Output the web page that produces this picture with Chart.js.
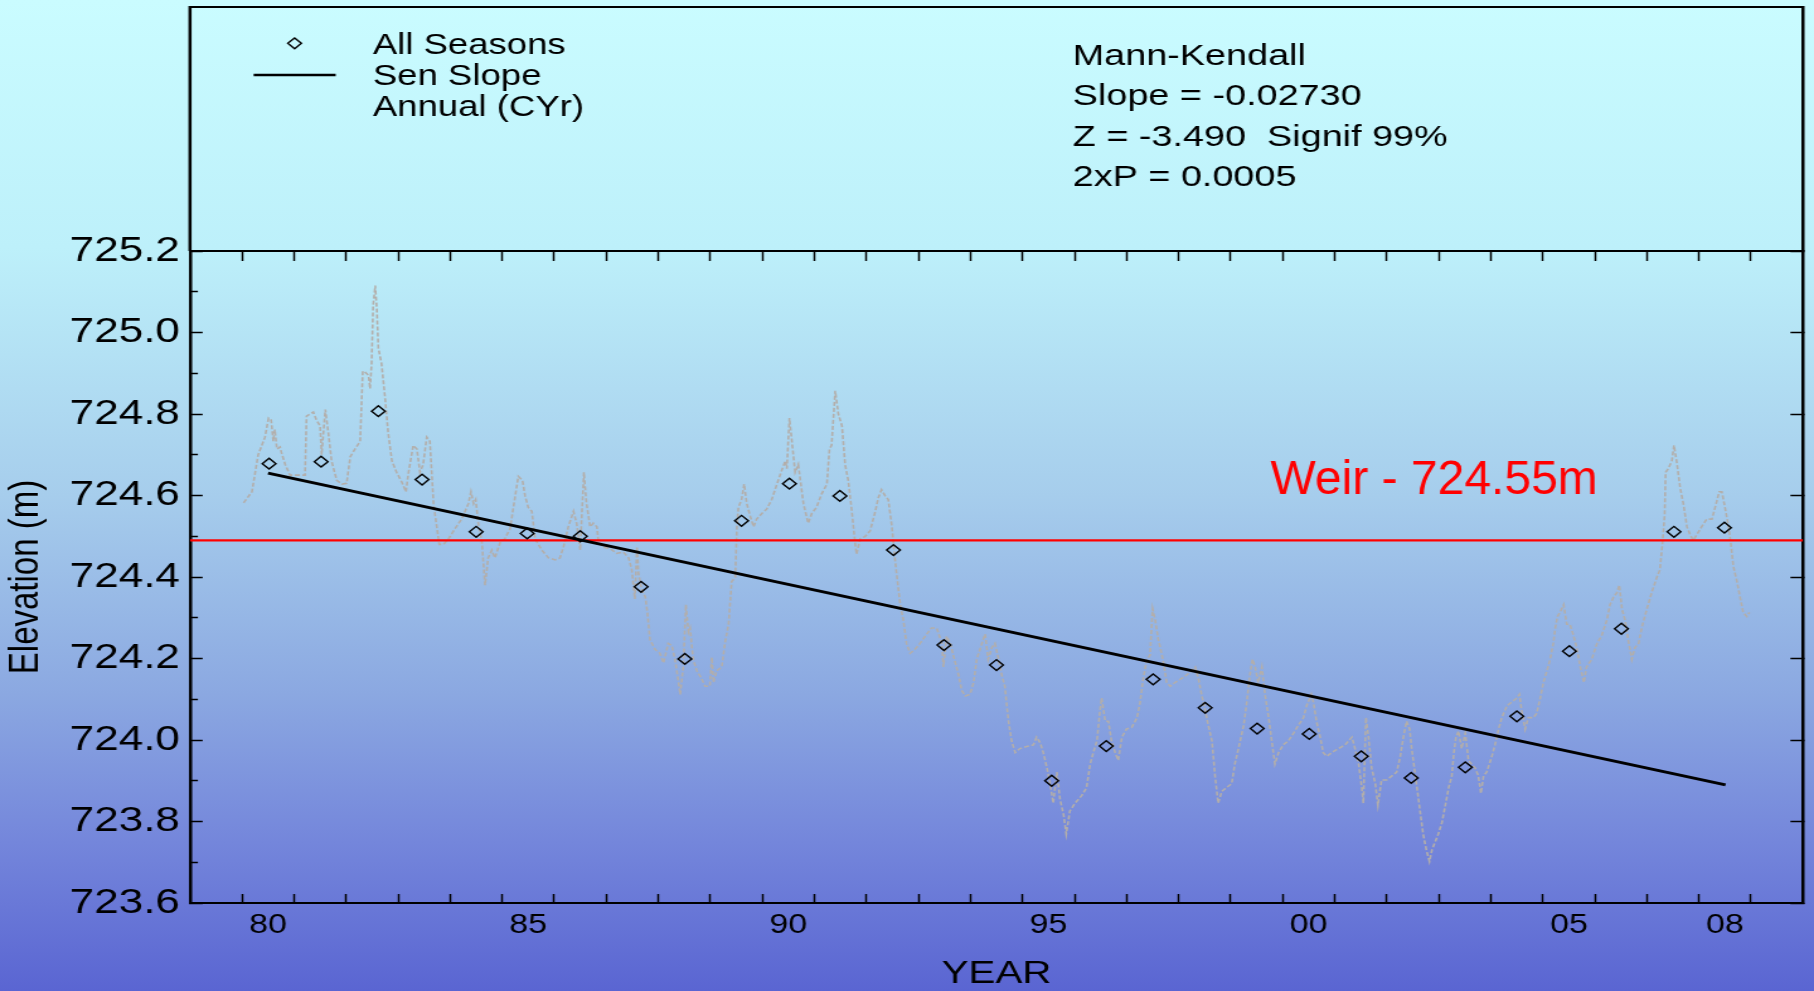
<!DOCTYPE html>
<html>
<head>
<meta charset="utf-8">
<title>Elevation - Mann-Kendall</title>
<script src="https://cdn.jsdelivr.net/npm/chart.js@4.4.1/dist/chart.umd.min.js"></script>
<style>
  html, body { margin: 0; padding: 0; overflow: hidden; }
  body {
    width: 1814px;
    height: 991px;
    background: linear-gradient(to bottom, #cafcff 0%, #bdf0fa 25%, #a6cdec 50%, #8ba8e1 70%, #7486db 85%, #5a65d2 100%);
  }
  /* the original picture is stretched sideways, so is this one */
  #wrap { width: 1440px; height: 991px; transform: scaleX(1.259722); transform-origin: 0 0; }
</style>
</head>
<body>
<div id="wrap"><canvas id="trendChart" width="1440" height="991"></canvas></div>
<script>
const STRETCH = 1814 / 1440;
const FONT = '"Liberation Sans", Arial, sans-serif';

// annual (all seasons) values
const seasonYears = [1980.52, 1981.52, 1982.62, 1983.46, 1984.50, 1985.48, 1986.50, 1987.67, 1988.51, 1989.60,
  1990.52, 1991.49, 1992.52, 1993.49, 1994.50, 1995.56, 1996.61, 1997.51, 1998.51, 1999.51,
  2000.51, 2001.51, 2002.47, 2003.51, 2004.50, 2005.51, 2006.51, 2007.52, 2008.49];
const seasonValues = [724.678, 724.683, 724.807, 724.639, 724.511, 724.507, 724.500, 724.376, 724.199, 724.538,
  724.629, 724.599, 724.466, 724.233, 724.184, 723.900, 723.985, 724.149, 724.079, 724.028,
  724.015, 723.960, 723.907, 723.933, 724.058, 724.218, 724.273, 724.511, 724.521];

// Sen slope end points
const senYears = [1980.50, 2008.51];
const senValues = [724.655, 723.890];

const weirLevel = 724.49;

// lake level record (grey dashed)
const levelYears = [
  1980.03, 1980.19, 1980.31, 1980.44, 1980.51, 1980.56, 1980.60, 1980.63, 1980.67, 1980.73, 1980.76, 1980.83, 1980.92,
  1981.21, 1981.24, 1981.37, 1981.43, 1981.50, 1981.53, 1981.60, 1981.66, 1981.72, 1981.82, 1981.92,
  1982.01, 1982.08, 1982.17, 1982.27, 1982.32, 1982.36, 1982.43, 1982.46, 1982.49, 1982.52, 1982.56, 1982.59, 1982.62, 1982.68, 1982.75, 1982.81, 1982.88, 1982.97,
  1983.07, 1983.15, 1983.20, 1983.29, 1983.36, 1983.42, 1983.48, 1983.55, 1983.61, 1983.68, 1983.79, 1983.87, 1983.97,
  1984.09, 1984.22, 1984.35, 1984.40, 1984.45, 1984.49, 1984.54, 1984.61, 1984.67, 1984.73, 1984.80, 1984.86, 1984.96,
  1985.05, 1985.15, 1985.25, 1985.31, 1985.39, 1985.44, 1985.50, 1985.57, 1985.63, 1985.76, 1985.89,
  1986.02, 1986.11, 1986.18, 1986.27, 1986.37, 1986.43, 1986.50, 1986.53, 1986.57, 1986.62, 1986.69, 1986.75, 1986.82, 1986.85, 1986.94,
  1987.07, 1987.20, 1987.33, 1987.43, 1987.49, 1987.55, 1987.59, 1987.62, 1987.68, 1987.75, 1987.79, 1987.84, 1987.94,
  1988.03, 1988.10, 1988.19, 1988.26, 1988.32, 1988.39, 1988.42, 1988.48, 1988.53, 1988.58, 1988.61, 1988.67, 1988.74, 1988.83, 1988.90, 1988.99,
  1989.03, 1989.06, 1989.12, 1989.22, 1989.28, 1989.35, 1989.41, 1989.48, 1989.51, 1989.54, 1989.60, 1989.65, 1989.70, 1989.76, 1989.83, 1989.89, 1989.99,
  1990.08, 1990.18, 1990.28, 1990.37, 1990.44, 1990.47, 1990.52, 1990.56, 1990.63, 1990.69, 1990.79, 1990.88, 1990.95,
  1991.04, 1991.14, 1991.24, 1991.29, 1991.33, 1991.40, 1991.46, 1991.53, 1991.59, 1991.65, 1991.72, 1991.78, 1991.81, 1991.88, 1991.97,
  1992.07, 1992.17, 1992.23, 1992.29, 1992.36, 1992.42, 1992.49, 1992.53, 1992.58, 1992.65, 1992.71, 1992.77, 1992.84, 1992.93,
  1993.03, 1993.16, 1993.25, 1993.35, 1993.45, 1993.48, 1993.54, 1993.61, 1993.67, 1993.77, 1993.83, 1993.90, 1993.99,
  1994.06, 1994.12, 1994.22, 1994.28, 1994.34, 1994.41, 1994.47, 1994.54, 1994.60, 1994.66, 1994.73, 1994.79, 1994.86, 1994.95,
  1995.08, 1995.21, 1995.27, 1995.34, 1995.40, 1995.47, 1995.53, 1995.59, 1995.66, 1995.72, 1995.79, 1995.84, 1995.91,
  1996.01, 1996.14, 1996.23, 1996.30, 1996.36, 1996.43, 1996.49, 1996.52, 1996.59, 1996.65, 1996.71, 1996.78, 1996.84, 1996.91,
  1997.00, 1997.10, 1997.20, 1997.26, 1997.32, 1997.39, 1997.45, 1997.50, 1997.55, 1997.61, 1997.68, 1997.71, 1997.77, 1997.84, 1997.93,
  1998.06, 1998.16, 1998.25, 1998.32, 1998.38, 1998.44, 1998.51, 1998.57, 1998.64, 1998.70, 1998.76, 1998.83, 1998.92,
  1999.02, 1999.08, 1999.15, 1999.25, 1999.31, 1999.37, 1999.42, 1999.47, 1999.53, 1999.60, 1999.66, 1999.73, 1999.79, 1999.85, 1999.92,
  2000.01, 2000.11, 2000.21, 2000.30, 2000.40, 2000.46, 2000.55, 2000.59, 2000.65, 2000.72, 2000.78, 2000.85, 2000.94,
  2001.07, 2001.20, 2001.33, 2001.39, 2001.46, 2001.52, 2001.55, 2001.60, 2001.65, 2001.71, 2001.78, 2001.83, 2001.90,
  2002.00, 2002.10, 2002.19, 2002.26, 2002.32, 2002.38, 2002.44, 2002.48, 2002.54, 2002.61, 2002.65, 2002.70, 2002.76, 2002.82, 2002.87, 2002.93, 2002.99,
  2003.06, 2003.12, 2003.19, 2003.25, 2003.29, 2003.33, 2003.38, 2003.44, 2003.51, 2003.57, 2003.63, 2003.70, 2003.76, 2003.81, 2003.86, 2003.92,
  2004.02, 2004.08, 2004.15, 2004.21, 2004.31, 2004.40, 2004.50, 2004.55, 2004.59, 2004.66, 2004.72, 2004.82, 2004.88, 2004.95,
  2005.01, 2005.08, 2005.14, 2005.20, 2005.24, 2005.28, 2005.33, 2005.40, 2005.46, 2005.52, 2005.59, 2005.65, 2005.72, 2005.79, 2005.84, 2005.94,
  2006.04, 2006.13, 2006.23, 2006.29, 2006.36, 2006.42, 2006.47, 2006.52, 2006.58, 2006.64, 2006.71, 2006.77, 2006.84, 2006.90,
  2007.00, 2007.09, 2007.19, 2007.25, 2007.30, 2007.34, 2007.36, 2007.41, 2007.48, 2007.52, 2007.57, 2007.64, 2007.70, 2007.77, 2007.83, 2007.89, 2007.96,
  2008.05, 2008.15, 2008.25, 2008.33, 2008.39, 2008.44, 2008.50, 2008.57, 2008.61, 2008.66, 2008.73, 2008.79, 2008.85, 2008.92, 2008.97
];
const levelValues = [
  724.582, 724.609, 724.700, 724.743, 724.790, 724.785, 724.733, 724.762, 724.714, 724.719, 724.704, 724.676, 724.650,
  724.650, 724.795, 724.805, 724.785, 724.771, 724.700, 724.811, 724.752, 724.685, 724.637, 724.628,
  724.630, 724.695, 724.714, 724.733, 724.905, 724.903, 724.895, 724.862, 724.924, 725.067, 725.115, 725.058, 724.962, 724.924, 724.838, 724.752, 724.685, 724.657,
  724.633, 724.609, 724.657, 724.723, 724.714, 724.657, 724.676, 724.743, 724.733, 724.580, 724.480, 724.480, 724.494,
  724.518, 724.542, 724.580, 724.609, 724.580, 724.590, 724.532, 724.485, 724.380, 724.447, 724.466, 724.447, 724.485,
  724.494, 724.518, 724.599, 724.647, 724.637, 724.599, 724.571, 724.561, 724.494, 724.466, 724.447,
  724.442, 724.447, 724.475, 724.523, 724.561, 724.532, 724.466, 724.552, 724.657, 724.580, 724.523, 724.532, 724.523, 724.485, 724.473,
  724.470, 724.458, 724.461, 724.447, 724.418, 724.346, 724.475, 724.408, 724.370, 724.351, 724.313, 724.246, 724.222,
  724.213, 724.189, 724.237, 724.232, 724.198, 724.141, 724.112, 724.179, 724.332, 724.265, 724.275, 724.198, 724.170, 724.151, 724.132, 724.132,
  724.203, 724.141, 724.170, 724.179, 724.237, 724.284, 724.389, 724.399, 724.523, 724.571, 724.590, 724.628, 724.580, 724.552, 724.523, 724.542, 724.556,
  724.566, 724.590, 724.628, 724.661, 724.685, 724.666, 724.790, 724.742, 724.657, 724.676, 724.580, 724.532, 724.556,
  724.571, 724.604, 724.628, 724.714, 724.723, 724.857, 724.800, 724.771, 724.676, 724.637, 724.561, 724.485, 724.456, 724.494, 724.499,
  724.513, 724.561, 724.595, 724.614, 724.599, 724.590, 724.523, 724.466, 724.408, 724.332, 724.294, 724.237, 724.213, 724.222,
  724.237, 724.260, 724.275, 724.275, 724.237, 724.179, 724.255, 724.237, 724.208, 724.160, 724.122, 724.108, 724.112,
  724.141, 724.198, 724.237, 724.260, 724.198, 724.227, 724.237, 724.198, 724.160, 724.132, 724.046, 723.998, 723.969, 723.979,
  723.984, 723.988, 724.007, 723.993, 723.969, 723.931, 723.893, 723.845, 723.921, 723.855, 723.816, 723.769, 723.826,
  723.845, 723.864, 723.883, 723.941, 723.969, 723.998, 724.074, 724.103, 724.046, 724.046, 723.998, 723.969, 723.950, 724.007,
  724.027, 724.031, 724.055, 724.093, 724.151, 724.198, 724.208, 724.322, 724.294, 724.246, 724.208, 724.189, 724.141, 724.132, 724.141,
  724.151, 724.160, 724.170, 724.179, 724.151, 724.112, 724.074, 724.036, 723.998, 723.912, 723.845, 723.874, 723.883,
  723.893, 723.941, 723.979, 724.036, 724.093, 724.160, 724.198, 724.179, 724.141, 724.179, 724.112, 724.055, 723.998, 723.941, 723.969,
  723.988, 723.998, 724.017, 724.036, 724.055, 724.084, 724.112, 724.093, 724.046, 724.007, 723.969, 723.960, 723.969,
  723.979, 723.988, 724.007, 723.979, 723.941, 723.883, 723.845, 724.055, 724.007, 723.931, 723.893, 723.840, 723.902,
  723.902, 723.912, 723.921, 723.960, 724.007, 724.046, 724.027, 723.979, 723.921, 723.855, 723.816, 723.769, 723.731, 723.702, 723.731, 723.750, 723.769,
  723.797, 723.836, 723.883, 723.912, 723.969, 724.007, 724.022, 723.979, 724.017, 723.950, 723.941, 723.931, 723.912, 723.869, 723.912, 723.921,
  723.960, 723.988, 724.027, 724.055, 724.084, 724.093, 724.103, 724.112, 724.074, 724.027, 724.055, 724.055, 724.065, 724.103,
  724.141, 724.170, 724.198, 724.237, 724.275, 724.303, 724.313, 724.332, 724.284, 724.284, 724.256, 724.227, 724.179, 724.141, 724.179, 724.198,
  724.237, 724.256, 724.294, 724.332, 724.351, 724.361, 724.380, 724.322, 724.294, 724.246, 724.198, 724.227, 724.237, 724.275,
  724.322, 724.361, 724.399, 724.418, 724.485, 724.552, 724.657, 724.666, 724.685, 724.723, 724.685, 724.618, 724.580, 724.523, 724.504, 724.490, 724.504,
  724.523, 724.542, 724.542, 724.580, 724.609, 724.609, 724.571, 724.523, 724.485, 724.427, 724.389, 724.351, 724.313, 724.303, 724.313
];

// axes
const yearTicks = [1980, 1981, 1982, 1983, 1984, 1985, 1986, 1987, 1988, 1989, 1990, 1991, 1992, 1993, 1994,
  1995, 1996, 1997, 1998, 1999, 2000, 2001, 2002, 2003, 2004, 2005, 2006, 2007, 2008, 2009];
const yearLabelValues = [1980, 1985, 1990, 1995, 2000, 2005, 2008];
const yearLabels = ['80', '85', '90', '95', '00', '05', '08'];
const elevTicks = [723.6, 723.8, 724.0, 724.2, 724.4, 724.6, 724.8, 725.0, 725.2];
const elevMinorTicks = [723.7, 723.9, 724.1, 724.3, 724.5, 724.7, 724.9, 725.1];

const legendLabels = ['All Seasons', 'Sen Slope', 'Annual (CYr)'];
const statsLines = ['Mann-Kendall', 'Slope = -0.02730', 'Z = -3.490  Signif 99%', '2xP = 0.0005'];
const weirLabel = 'Weir - 724.55m';

const pts = (xs, ys) => xs.map((x, i) => ({ x: x, y: ys[i] }));

const setTicks = (values) => (scale) => { scale.ticks = values.map(v => ({ value: v })); };

// frame above the plot, legend, stats and weir note
const framePlugin = {
  id: 'frame',
  afterDraw(chart) {
    const { ctx, chartArea } = chart;
    const top = 7;
    ctx.save();
    ctx.strokeStyle = '#000';
    ctx.lineWidth = 2;
    ctx.beginPath();
    ctx.moveTo(chartArea.left, top);
    ctx.lineTo(chartArea.right, top);
    ctx.stroke();
    ctx.lineWidth = 2.5;
    ctx.beginPath();
    ctx.moveTo(chartArea.left, top - 1);
    ctx.lineTo(chartArea.left, chartArea.top);
    ctx.moveTo(chartArea.right, top - 1);
    ctx.lineTo(chartArea.right, chartArea.top);
    ctx.stroke();

    // legend symbols
    const dx = 294.6 / STRETCH, dy = 43.3, r = 5.4;
    ctx.lineWidth = 1.4;
    ctx.beginPath();
    ctx.moveTo(dx - r, dy);
    ctx.lineTo(dx, dy - r);
    ctx.lineTo(dx + r, dy);
    ctx.lineTo(dx, dy + r);
    ctx.closePath();
    ctx.stroke();
    ctx.lineWidth = 2.7;
    ctx.beginPath();
    ctx.moveTo(253.6 / STRETCH, 75);
    ctx.lineTo(335.7 / STRETCH, 75);
    ctx.stroke();

    ctx.fillStyle = '#000';
    ctx.textBaseline = 'alphabetic';
    ctx.textAlign = 'left';
    ctx.font = '29px ' + FONT;
    const legendBase = [53.5, 84.5, 116];
    legendLabels.forEach((t, i) => ctx.fillText(t, 372.8 / STRETCH, legendBase[i]));

    ctx.font = '30px ' + FONT;
    const statsBase = [65, 104.5, 145.5, 186];
    statsLines.forEach((t, i) => ctx.fillText(t, 1072.7 / STRETCH, statsBase[i]));

    // the weir note was added later, unstretched
    ctx.scale(1 / STRETCH, 1);
    ctx.fillStyle = '#ff0000';
    ctx.font = '48px ' + FONT;
    ctx.fillText(weirLabel, 1270.5, 493.5);
    ctx.restore();
  }
};

const ctx = document.getElementById('trendChart').getContext('2d');
new Chart(ctx, {
  type: 'line',
  data: {
    datasets: [
      {
        label: 'Elevation',
        data: pts(levelYears, levelValues),
        xAxisID: 'x', yAxisID: 'y',
        borderColor: '#b3aeaa',
        borderWidth: 1.6,
        borderDash: [4, 2],
        pointRadius: 0,
        tension: 0,
        order: 4
      },
      {
        label: 'Weir',
        data: pts([1979, 2010], [weirLevel, weirLevel]),
        xAxisID: 'x', yAxisID: 'y',
        borderColor: '#ff0000',
        borderWidth: 2.2,
        pointRadius: 0,
        order: 3
      },
      {
        label: 'Sen Slope',
        data: pts(senYears, senValues),
        xAxisID: 'x', yAxisID: 'y',
        borderColor: '#000',
        borderWidth: 3,
        pointRadius: 0,
        order: 2
      },
      {
        label: 'All Seasons',
        data: pts(seasonYears, seasonValues),
        xAxisID: 'x', yAxisID: 'y',
        showLine: false,
        pointStyle: 'rectRot',
        pointRadius: 5.4,
        pointBorderColor: '#000',
        pointBorderWidth: 1.4,
        pointBackgroundColor: 'rgba(0,0,0,0)',
        order: 1
      }
    ]
  },
  options: {
    responsive: false,
    animation: false,
    devicePixelRatio: 1,
    events: [],
    layout: { padding: { top: 251, right: 1440 - 1803 / STRETCH, bottom: 0, left: 0 } },
    plugins: { legend: { display: false }, tooltip: { enabled: false } },
    scales: {
      x: {
        type: 'linear', position: 'bottom', min: 1979, max: 2010,
        afterBuildTicks: setTicks(yearTicks),
        afterFit: (scale) => { scale.height = 88; },
        border: { display: true, color: '#000', width: 2 },
        grid: { drawOnChartArea: false, tickLength: -9, tickColor: '#000', tickWidth: 1.5 },
        ticks: {
          autoSkip: false, maxRotation: 0, padding: 15,
          labelOffset: (1803 - 190) / STRETCH / 31 / 2,
          color: '#000', font: { family: FONT, size: 27 },
          callback: (v) => { const i = yearLabelValues.indexOf(v); return i < 0 ? '' : yearLabels[i]; }
        },
        title: {
          display: true, text: 'YEAR', color: '#000',
          font: { family: FONT, size: 32, lineHeight: 1 },
          padding: { top: 0, bottom: 1 }
        }
      },
      xTop: {
        type: 'linear', position: 'top', min: 1979, max: 2010,
        afterBuildTicks: setTicks(yearTicks),
        afterFit: (scale) => { scale.height = 0; },
        border: { display: true, color: '#000', width: 2 },
        grid: { drawOnChartArea: false, tickLength: -10, tickColor: '#000', tickWidth: 1.5 },
        ticks: { display: false }
      },
      y: {
        type: 'linear', position: 'left', min: 723.6, max: 725.2, weight: 2,
        afterBuildTicks: setTicks(elevTicks),
        afterFit: (scale) => { scale.width = 190 / STRETCH; },
        border: { display: true, color: '#000', width: 2.5 },
        grid: { drawOnChartArea: false, tickLength: -10, tickColor: '#000', tickWidth: 1.5 },
        ticks: {
          padding: 18, color: '#000', font: { family: FONT, size: 35 },
          callback: (v) => v.toFixed(1)
        },
        title: {
          display: true, text: 'Elevation (m)', color: '#000',
          font: { family: FONT, size: 33, lineHeight: 1 },
          padding: { top: 4, bottom: 0 }
        }
      },
      yMinor: {
        type: 'linear', position: 'left', min: 723.6, max: 725.2, weight: 1,
        afterBuildTicks: setTicks(elevMinorTicks),
        afterFit: (scale) => { scale.width = 0; },
        border: { display: false },
        grid: { drawOnChartArea: false, tickLength: -6.3, tickColor: '#000', tickWidth: 1.5 },
        ticks: { display: false }
      },
      yRight: {
        type: 'linear', position: 'right', min: 723.6, max: 725.2,
        afterBuildTicks: setTicks(elevTicks),
        afterFit: (scale) => { scale.width = 0; },
        border: { display: true, color: '#000', width: 2.5 },
        grid: { drawOnChartArea: false, tickLength: -10, tickColor: '#000', tickWidth: 1.5 },
        ticks: { display: false }
      }
    }
  },
  plugins: [framePlugin]
});
</script>
</body>
</html>
